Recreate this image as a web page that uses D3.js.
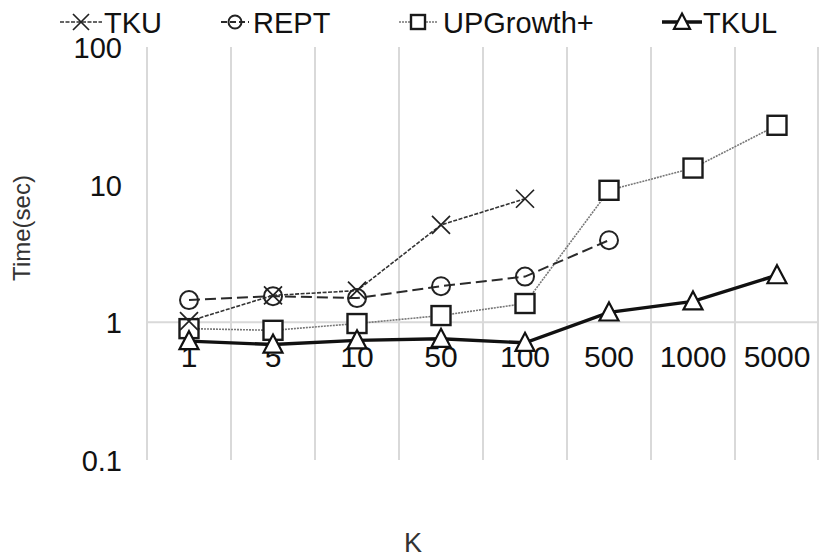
<!DOCTYPE html>
<html>
<head>
<meta charset="utf-8">
<script src="https://cdn.jsdelivr.net/npm/d3@7"></script>
<style>
  body { margin: 0; background: #fff; }
  text { font-family: "Liberation Sans", Arial, sans-serif; fill: #111; }
  .title { fill: #333; }
</style>
</head>
<body>
<script>
// K values (categories)
var kValues = ["1", "5", "10", "50", "100", "500", "1000", "5000"];

// run times in seconds (null = not run)
var tku       = [1.02, 1.57, 1.7, 5.1, 7.9, null, null, null];
var rept      = [1.45, 1.55, 1.5, 1.83, 2.15, 3.95, null, null];
var upgrowth  = [0.9, 0.875, 0.98, 1.12, 1.37, 9.1, 13.2, 27];
var tkul      = [0.73, 0.69, 0.74, 0.76, 0.71, 1.18, 1.42, 2.2];

var seriesNames = ["TKU", "REPT", "UPGrowth+", "TKUL"];
var yTicks = [0.1, 1, 10, 100];

var WIDTH = 819;
var HEIGHT = 557;

var svg = d3.select("body")
    .append("svg")
    .attr("width", WIDTH)
    .attr("height", HEIGHT);

var x = d3.scaleBand()
    .domain(kValues)
    .range([147, 819])
    .padding(0);

var y = d3.scaleLog()
    .domain([0.1, 100])
    .range([460, 47]);

var xc = function(k) { return x(k) + x.bandwidth() / 2; };

// vertical grid lines (category boundaries) incl. left axis line
var bounds = kValues.map(function(k) { return x(k); }).concat([x.range()[1] - 1]);
svg.append("g").selectAll("line")
    .data(bounds)
    .enter()
    .append("line")
    .attr("x1", function(d) { return d; })
    .attr("x2", function(d) { return d; })
    .attr("y1", y(100))
    .attr("y2", y(0.1))
    .attr("stroke", "#d9d9d9")
    .attr("stroke-width", 2);

// horizontal axis line crosses at 1
svg.append("line")
    .attr("x1", x.range()[0])
    .attr("x2", x.range()[1])
    .attr("y1", y(1))
    .attr("y2", y(1))
    .attr("stroke", "#d9d9d9")
    .attr("stroke-width", 2);

// y axis labels
var yAxis = d3.axisLeft(y)
    .tickValues(yTicks)
    .tickFormat(d3.format("~g"))
    .tickSize(0)
    .tickPadding(0);

var yg = svg.append("g")
    .attr("transform", "translate(122,0)")
    .call(yAxis);
yg.select(".domain").remove();
yg.selectAll("text")
    .attr("font-family", null)
    .style("font-size", "29px")
    .attr("dy", "0.36em");

// x labels, sit below the line at 1
svg.append("g").selectAll("text")
    .data(kValues)
    .enter()
    .append("text")
    .attr("x", function(d) { return xc(d); })
    .attr("y", y(1) + 45)
    .attr("text-anchor", "middle")
    .style("font-size", "30px")
    .text(function(d) { return d; });

// axis titles
svg.append("text")
    .attr("class", "title")
    .attr("transform", "translate(30,228) rotate(-90)")
    .attr("text-anchor", "middle")
    .style("font-size", "24px")
    .text("Time(sec)");

svg.append("text")
    .attr("class", "title")
    .attr("x", 413)
    .attr("y", 552)
    .attr("text-anchor", "middle")
    .style("font-size", "27px")
    .text("K");

var styles = {
    "TKU":       { data: tku,      color: "#333",    width: 1.6, dash: "4,1.5", marker: "x" },
    "REPT":      { data: rept,     color: "#2a2a2a", width: 2,   dash: "11,5",  marker: "circle" },
    "UPGrowth+": { data: upgrowth, color: "#777",    width: 1.6, dash: "2,1",   marker: "square" },
    "TKUL":      { data: tkul,     color: "#111",    width: 3.4, dash: null,    marker: "triangle" }
};

var drawMarker = function(g, type, cx, cy, s) {
    if (type === "x") {
        g.append("path")
            .attr("d", "M" + (cx - s) + "," + (cy - s) + "L" + (cx + s) + "," + (cy + s) +
                       "M" + (cx - s) + "," + (cy + s) + "L" + (cx + s) + "," + (cy - s))
            .attr("stroke", "#222").attr("stroke-width", 1.7).attr("fill", "none");
    } else if (type === "circle") {
        g.append("circle").attr("cx", cx).attr("cy", cy).attr("r", s)
            .attr("stroke", "#222").attr("stroke-width", 2).attr("fill", "none");
    } else if (type === "square") {
        g.append("rect").attr("x", cx - s).attr("y", cy - s).attr("width", 2 * s).attr("height", 2 * s)
            .attr("stroke", "#1a1a1a").attr("stroke-width", 2.4).attr("fill", "#fff");
    } else {
        g.append("path")
            .attr("d", "M" + cx + "," + (cy - s * 1.05) + "L" + (cx + s) + "," + (cy + s * 0.85) +
                       "L" + (cx - s) + "," + (cy + s * 0.85) + "Z")
            .attr("stroke", "#111").attr("stroke-width", 2.2).attr("fill", "#fff");
    }
};

var line = d3.line()
    .defined(function(d) { return d.v !== null; })
    .x(function(d) { return xc(d.k); })
    .y(function(d) { return y(d.v); });

var markerSize = { "x": 9, "circle": 9, "square": 9.5, "triangle": 9.5 };
var legendSize = { "x": 8, "circle": 6.5, "square": 7, "triangle": 8 };

// lines and markers, draw order: UPGrowth+, REPT, TKU, TKUL
["UPGrowth+", "REPT", "TKU", "TKUL"].forEach(function(name) {
    var st = styles[name];
    var pts = kValues.map(function(k, i) { return { k: k, v: st.data[i] }; });
    svg.append("path")
        .datum(pts)
        .attr("d", line)
        .attr("fill", "none")
        .attr("stroke", st.color)
        .attr("stroke-width", st.width)
        .attr("stroke-dasharray", st.dash);
});
["UPGrowth+", "REPT", "TKU", "TKUL"].forEach(function(name) {
    var st = styles[name];
    var g = svg.append("g");
    kValues.forEach(function(k, i) {
        if (st.data[i] !== null) drawMarker(g, st.marker, xc(k), y(st.data[i]), markerSize[st.marker]);
    });
});

// legend
var legendX = [81, 235, 418, 682];
var legendHalf = [21, 14, 19, 20];
var legendText = [104, 253, 443, 703];
seriesNames.forEach(function(name, i) {
    var st = styles[name];
    var g = svg.append("g");
    g.append("line")
        .attr("x1", legendX[i] - legendHalf[i]).attr("x2", legendX[i] + legendHalf[i])
        .attr("y1", 22).attr("y2", 22)
        .attr("stroke", st.color)
        .attr("stroke-width", st.width)
        .attr("stroke-dasharray", st.dash ? (name === "REPT" ? "6,3" : st.dash) : null);
    drawMarker(g, st.marker, legendX[i], 22, legendSize[st.marker]);
    g.append("text")
        .attr("x", legendText[i])
        .attr("y", 33)
        .style("font-size", "29px")
        .text(name);
});
</script>
</body>
</html>
